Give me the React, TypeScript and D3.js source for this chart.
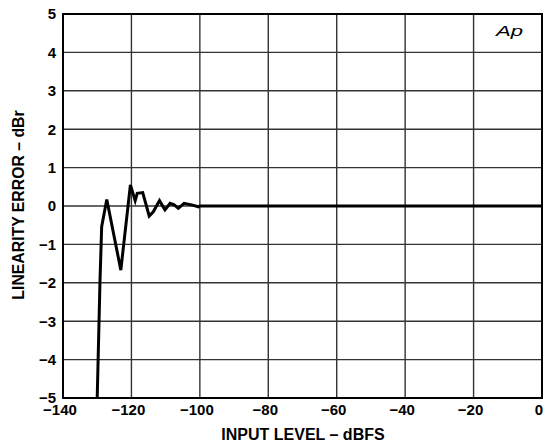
import React from "react";
import * as d3 from "d3";

const xTicks = [-140, -120, -100, -80, -60, -40, -20, 0];
const yTicks = [5, 4, 3, 2, 1, 0, -1, -2, -3, -4, -5];
const inputLevel = [-130.2, -130, -129.2, -128.7, -127.2, -123.1, -120.3, -118.9, -118.3, -116.7, -114.8, -113.6, -111.8, -110.2, -108.7, -107.5, -106.3, -104.6, -102.4, -100.4, -100, 0];
const linearityError = [-5.6, -5, -2.0, -0.54, 0.17, -1.67, 0.55, 0.14, 0.33, 0.35, -0.26, -0.15, 0.14, -0.1, 0.07, 0.03, -0.06, 0.07, 0.03, -0.02, 0, 0];

const W = 545, H = 443;
const M = { left: 63, right: 542, top: 14, bottom: 398 };

export default function App() {
  const x = d3.scaleLinear().domain([-140, 0]).range([M.left, M.right]);
  const y = d3.scaleLinear().domain([-5, 5]).range([M.bottom, M.top]);
  const pts: [number, number][] = inputLevel.map((v, i) => [v, linearityError[i]]);
  const line = d3.line<[number, number]>().x(d => x(d[0])).y(d => y(d[1]));
  const font = "'Liberation Sans', Arial, sans-serif";
  const fmt = (t: number) => (t < 0 ? "\u2212" + Math.abs(t) : String(t));
  return (
    <svg width={W} height={H} style={{ position: "absolute", left: 0, top: 0, background: "#fff" }}>
      <defs>
        <clipPath id="plot"><rect x={M.left} y={M.top} width={M.right - M.left} height={M.bottom - M.top} /></clipPath>
      </defs>
      {xTicks.map(t => (
        <line key={"gx" + t} x1={x(t)} x2={x(t)} y1={M.top} y2={M.bottom} stroke="#333" strokeWidth={1.4} />
      ))}
      {yTicks.map(t => (
        <line key={"gy" + t} x1={M.left} x2={M.right} y1={y(t)} y2={y(t)} stroke="#333" strokeWidth={1.4} />
      ))}
      <rect x={M.left} y={M.top} width={M.right - M.left} height={M.bottom - M.top} fill="none" stroke="#000" strokeWidth={2} />
      <path d={line(pts) || ""} fill="none" stroke="#000" strokeWidth={3} strokeLinejoin="miter" clipPath="url(#plot)" />
      {yTicks.map(t => (
        <text key={"ty" + t} x={M.left - 7} y={y(t)} dy="0.36em" textAnchor="end" fontFamily={font} fontWeight="bold" fontSize={15}>
          {fmt(t)}
        </text>
      ))}
      {xTicks.map(t => (
        <text key={"tx" + t} x={x(t) - 3} y={415} textAnchor="middle" fontFamily={font} fontWeight="bold" fontSize={15}>
          {fmt(t)}
        </text>
      ))}
      <text x={303} y={440} textAnchor="middle" fontFamily={font} fontWeight="bold" fontSize={16}>
        INPUT LEVEL – dBFS
      </text>
      <text transform={`translate(23.5,205) rotate(-90)`} textAnchor="middle" fontFamily={font} fontWeight="bold" fontSize={15.8}>
        LINEARITY ERROR – dBr
      </text>
      <text x={496} y={36} fontFamily={font} fontStyle="italic" fontSize={15} textLength={27} lengthAdjust="spacingAndGlyphs">Ap</text>
    </svg>
  );
}
